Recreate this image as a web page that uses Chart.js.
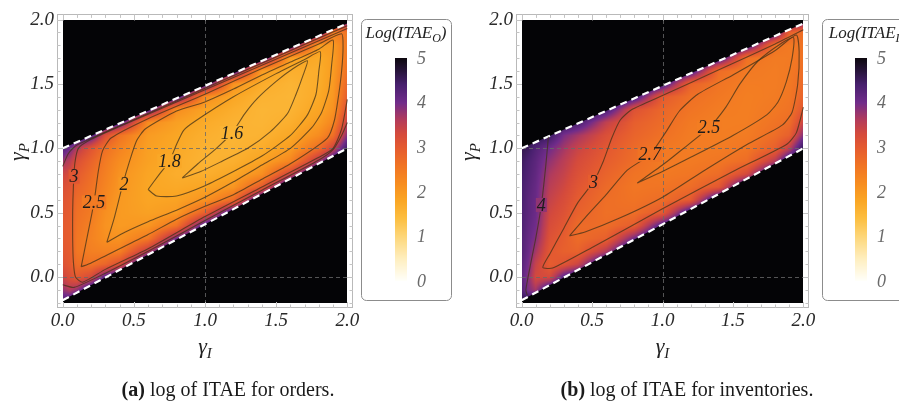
<!DOCTYPE html>
<html>
<head>
<meta charset="utf-8">
<script src="https://cdn.jsdelivr.net/npm/chart.js@4.4.0/dist/chart.umd.min.js"></script>
<style>
  html, body { margin: 0; padding: 0; background: #fff; }
  #wrap { position: relative; width: 899px; height: 405px; overflow: hidden; }
  canvas { position: absolute; top: 0; }
</style>
</head>
<body>
<div id="wrap">
  <canvas id="orders" width="455" height="405" style="left:0"></canvas>
  <canvas id="inventories" width="449" height="405" style="left:450px"></canvas>
</div>
<script>
// grid nodes (gamma_I across, gamma_P up)
const gammaI = [0, 0.05, 0.1, 0.2, 0.3, 0.4, 0.6, 0.8, 1.0, 1.2, 1.4, 1.6, 1.8, 1.9, 2.0];
const gammaP = [-0.2, -0.1, 0.0, 0.1, 0.2, 0.3, 0.4, 0.5, 0.6, 0.7, 0.8, 0.9, 1.0, 1.1, 1.2, 1.3, 1.4, 1.5, 1.6, 1.7, 1.8, 1.9, 2.0];
const axisTicks = [0, 0.5, 1, 1.5, 2];
const colorbarTicks = [0, 1, 2, 3, 4, 5];
const refLinesX = [1.0];
const refLinesY = [0.0, 1.0];

// stability region edges
const stableUpper = [{ x: 0, y: 1.0 }, { x: 2, y: 1.97 }];
const stableLower = [{ x: 0, y: -0.18 }, { x: 2, y: 1.0 }];

// log(ITAE) for orders, one column per gammaI node
const logItaeOrders = [
  [4.4,3.8,3.4,3.15,3.05,3.0,3.0,3.05,3.1,3.2,3.4,3.75,4.3,5,5,5,5,5,5,5,5,5,5],
  [4.5,3.6,3.2,3.02,2.98,2.95,2.95,2.98,3.02,3.1,3.25,3.55,4.0,4.8,5,5,5,5,5,5,5,5,5],
  [5,3.8,3.0,2.7,2.55,2.55,2.6,2.65,2.72,2.85,3.0,3.2,3.6,4.6,5,5,5,5,5,5,5,5,5],
  [5,4.6,3.3,2.6,2.4,2.35,2.4,2.48,2.55,2.62,2.7,2.85,3.1,4.3,5,5,5,5,5,5,5,5,5],
  [5,5,4.2,2.8,2.35,2.15,2.1,2.15,2.25,2.33,2.4,2.48,2.65,3.2,4.6,5,5,5,5,5,5,5,5],
  [5,5,4.6,3.2,2.4,2.1,1.98,1.98,2.0,2.05,2.1,2.2,2.35,2.6,4.3,5,5,5,5,5,5,5,5],
  [5,5,5,4.8,3.6,2.5,2.05,1.88,1.82,1.8,1.82,1.88,1.9,1.97,2.2,4.3,5,5,5,5,5,5,5],
  [5,5,5,5,4.9,4.0,2.6,2.0,1.85,1.75,1.68,1.72,1.76,1.8,1.9,2.2,4.4,5,5,5,5,5,5],
  [5,5,5,5,5,5,4.3,2.9,2.1,1.82,1.66,1.58,1.6,1.65,1.72,1.85,2.2,4.4,5,5,5,5,5],
  [5,5,5,5,5,5,5,4.5,2.7,2.05,1.8,1.65,1.58,1.56,1.6,1.68,1.8,2.1,4.4,5,5,5,5],
  [5,5,5,5,5,5,5,5,4.6,3.0,2.15,1.85,1.7,1.6,1.56,1.55,1.6,1.7,1.95,4.4,5,5,5],
  [5,5,5,5,5,5,5,5,5,4.7,3.4,2.3,1.95,1.78,1.66,1.58,1.55,1.57,1.66,1.9,4.4,5,5],
  [5,5,5,5,5,5,5,5,5,5,4.8,3.7,2.7,2.2,1.95,1.82,1.74,1.7,1.68,1.72,1.95,4.4,5],
  [5,5,5,5,5,5,5,5,5,5,5,4.5,3.4,2.65,2.3,2.1,2.02,1.98,1.95,1.93,1.97,2.5,4.8],
  [5,5,5,5,5,5,5,5,5,5,5,5,4.5,3.9,3.5,3.2,2.95,2.8,2.65,2.55,2.5,2.55,4.4]
];

// log(ITAE) for inventories
const logItaeInventories = [
  [4.7,4.3,4.2,4.25,4.3,4.3,4.35,4.35,4.4,4.4,4.45,4.5,4.6,5,5,5,5,5,5,5,5,5,5],
  [4.8,3.9,3.85,3.95,4.05,4.1,4.15,4.2,4.2,4.25,4.3,4.35,4.5,4.8,5,5,5,5,5,5,5,5,5],
  [5,3.7,3.3,3.45,3.7,3.9,4.0,4.05,4.08,4.1,4.15,4.2,4.3,4.7,5,5,5,5,5,5,5,5,5],
  [5,4.6,3.3,2.95,3.05,3.15,3.25,3.35,3.45,3.55,3.65,3.8,4.0,4.5,5,5,5,5,5,5,5,5,5],
  [5,5,4.2,3.1,2.9,2.95,3.05,3.15,3.25,3.35,3.45,3.55,3.7,3.95,4.6,5,5,5,5,5,5,5,5],
  [5,5,4.6,3.4,2.85,2.72,2.74,2.88,2.98,3.08,3.18,3.28,3.42,3.7,4.4,5,5,5,5,5,5,5,5],
  [5,5,5,4.8,3.6,2.9,2.7,2.65,2.68,2.75,2.85,2.95,3.05,3.2,3.5,4.4,5,5,5,5,5,5,5],
  [5,5,5,5,4.9,4.0,2.95,2.68,2.6,2.55,2.6,2.7,2.74,2.84,2.93,3.15,4.4,5,5,5,5,5,5],
  [5,5,5,5,5,5,4.3,3.0,2.7,2.58,2.5,2.48,2.52,2.64,2.72,2.8,3.0,4.4,5,5,5,5,5],
  [5,5,5,5,5,5,5,4.5,3.0,2.7,2.56,2.48,2.45,2.46,2.5,2.58,2.65,2.85,4.4,5,5,5,5],
  [5,5,5,5,5,5,5,5,4.7,3.05,2.7,2.55,2.47,2.43,2.42,2.46,2.52,2.58,2.7,4.4,5,5,5],
  [5,5,5,5,5,5,5,5,5,4.7,3.3,2.7,2.55,2.47,2.43,2.42,2.42,2.45,2.5,2.62,4.4,5,5],
  [5,5,5,5,5,5,5,5,5,5,4.8,3.6,2.9,2.7,2.6,2.52,2.47,2.45,2.45,2.47,2.6,4.4,5],
  [5,5,5,5,5,5,5,5,5,5,5,4.6,3.5,2.9,2.7,2.6,2.55,2.52,2.5,2.48,2.5,2.9,4.8],
  [5,5,5,5,5,5,5,5,5,5,5,5,4.6,3.9,3.4,3.05,2.85,2.75,2.68,2.62,2.6,2.65,4.4]
];

// contour lines, [gammaI, gammaP] points
const ordersContourLevels = [1.6, 1.8, 2, 2.5, 3, 3.5, 3.5];
const ordersContourPaths = [
  [[0.84,0.77],[0.95,0.88],[1.08,1.0],[1.19,1.12],[1.28,1.27],[1.37,1.39],[1.5,1.52],[1.62,1.62],[1.72,1.68],[1.69,1.57],[1.64,1.42],[1.58,1.27],[1.46,1.13],[1.3,1.0],[1.12,0.9],[0.97,0.82],[0.84,0.77]],
  [[0.6,0.68],[0.68,0.8],[0.75,0.9],[0.8,1.03],[0.85,1.14],[0.93,1.21],[1.2,1.4],[1.5,1.58],[1.7,1.69],[1.81,1.75],[1.8,1.6],[1.78,1.42],[1.72,1.26],[1.6,1.1],[1.4,0.94],[1.2,0.82],[1.0,0.71],[0.8,0.63],[0.66,0.63],[0.6,0.68]],
  [[0.31,0.27],[0.36,0.45],[0.42,0.71],[0.47,0.9],[0.52,1.06],[0.58,1.15],[0.8,1.29],[1.0,1.36],[1.2,1.46],[1.4,1.57],[1.6,1.67],[1.8,1.77],[1.9,1.84],[1.89,1.65],[1.87,1.45],[1.82,1.28],[1.75,1.16],[1.6,1.0],[1.4,0.87],[1.2,0.74],[1.0,0.62],[0.8,0.52],[0.6,0.43],[0.44,0.35],[0.31,0.27]],
  [[0.13,0.08],[0.17,0.3],[0.22,0.58],[0.25,0.82],[0.28,0.98],[0.34,1.08],[0.6,1.23],[1.0,1.42],[1.4,1.62],[1.8,1.81],[1.96,1.89],[1.97,1.78],[1.96,1.6],[1.94,1.42],[1.91,1.22],[1.86,1.08],[1.6,0.88],[1.4,0.76],[1.2,0.64],[1.0,0.55],[0.8,0.45],[0.6,0.33],[0.4,0.22],[0.2,0.11],[0.13,0.08]],
  [[2.0,1.93],[1.6,1.74],[1.2,1.55],[0.8,1.36],[0.4,1.17],[0.2,1.07],[0.11,1.0],[0.085,0.88],[0.075,0.7],[0.07,0.5],[0.07,0.3],[0.075,0.12],[0.09,0.0],[0.14,-0.04],[0.3,0.06],[0.6,0.22],[1.0,0.47],[1.4,0.7],[1.8,0.93],[1.9,1.0],[1.96,1.15],[2.0,1.38]],
  [[0,0.86],[0.04,0.96],[0.1,1.025],[0.5,1.222],[1.0,1.466],[1.5,1.71],[2.0,1.952]],
  [[0,-0.06],[0.08,-0.08],[0.3,0.03],[0.6,0.2],[1.0,0.44],[1.4,0.675],[1.8,0.91],[1.9,0.99],[1.96,1.1],[2.0,1.2]]
];
const ordersLabelLevels = [3, 2.5, 2, 1.8, 1.6];
const ordersLabelSpots = [[0.08,0.78],[0.22,0.58],[0.43,0.72],[0.75,0.9],[1.19,1.12]];

const inventoriesContourLevels = [2.5, 2.7, 3, 4];
const inventoriesContourPaths = [
  [[0.82,0.73],[1.0,0.87],[1.15,1.0],[1.33,1.16],[1.45,1.32],[1.55,1.5],[1.68,1.68],[1.85,1.82],[1.93,1.86],[1.92,1.7],[1.88,1.52],[1.82,1.36],[1.74,1.26],[1.5,1.1],[1.2,0.93],[1.0,0.82],[0.82,0.73]],
  [[0.34,0.32],[0.45,0.46],[0.6,0.64],[0.75,0.83],[0.91,0.95],[1.02,1.12],[1.12,1.29],[1.25,1.42],[1.5,1.57],[1.8,1.76],[1.95,1.88],[1.97,1.75],[1.96,1.5],[1.92,1.28],[1.85,1.18],[1.6,1.03],[1.3,0.83],[1.0,0.62],[0.7,0.46],[0.45,0.35],[0.34,0.32]],
  [[2.0,1.32],[1.95,1.12],[1.88,1.03],[1.5,0.82],[1.0,0.53],[0.5,0.23],[0.22,0.07],[0.15,0.075],[0.2,0.18],[0.3,0.38],[0.4,0.58],[0.51,0.74],[0.58,0.9],[0.64,1.08],[0.7,1.22],[0.78,1.3],[1.0,1.41],[1.4,1.61],[1.8,1.81],[2.0,1.92]],
  [[0.19,1.09],[0.17,0.85],[0.14,0.56],[0.1,0.3],[0.06,0.08],[0.03,-0.1],[0.04,-0.14]]
];
const inventoriesLabelLevels = [4, 3, 2.7, 2.5];
const inventoriesLabelSpots = [[0.14,0.56],[0.51,0.74],[0.91,0.95],[1.33,1.16]];

// reversed sunset colour scale, 0 (white) .. 5 (black)
const sunsetStops = [
  [0.0, [255,255,250]], [0.5, [254,238,190]], [1.0, [253,214,120]], [1.4, [252,190,64]],
  [1.8, [250,166,36]], [2.2, [247,140,32]], [2.6, [240,115,36]], [3.0, [228,90,48]],
  [3.3, [212,74,60]], [3.6, [180,60,90]], [4.0, [112,44,138]], [4.4, [72,32,110]],
  [4.7, [40,20,60]], [5.0, [12,8,14]]
];

const serif = '"Liberation Serif", "Times New Roman", serif';

function sunset(v) {
  if (v <= sunsetStops[0][0]) return sunsetStops[0][1];
  for (let k = 1; k < sunsetStops.length; k++) {
    const [v1, c1] = sunsetStops[k];
    if (v <= v1) {
      const [v0, c0] = sunsetStops[k - 1];
      const t = (v - v0) / (v1 - v0);
      return [0, 1, 2].map(i => c0[i] + (c1[i] - c0[i]) * t);
    }
  }
  return sunsetStops[sunsetStops.length - 1][1];
}

function bracket(nodes, v) {
  let i = 0;
  while (i < nodes.length - 2 && v > nodes[i + 1]) i++;
  const t = Math.min(1, Math.max(0, (v - nodes[i]) / (nodes[i + 1] - nodes[i])));
  return [i, t];
}

function sampleGrid(grid, xv, yv) {
  const [i, tx] = bracket(gammaI, xv);
  const [j, ty] = bracket(gammaP, yv);
  const a = grid[i][j], b = grid[i + 1][j], c = grid[i][j + 1], d = grid[i + 1][j + 1];
  return (a * (1 - tx) + b * tx) * (1 - ty) + (c * (1 - tx) + d * tx) * ty;
}

function lineAt(edge, xv) {
  const [p, q] = edge;
  return p.y + (q.y - p.y) * (xv - p.x) / (q.x - p.x);
}

function rgb(c) { return `rgb(${c.map(Math.round).join(',')})`; }

function subText(ctx, x, y, main, sub, size, tail) {
  const mainFont = `italic ${size}px ${serif}`;
  const subFont = `italic ${Math.round(size * 0.68)}px ${serif}`;
  ctx.font = mainFont; const w1 = ctx.measureText(main).width;
  ctx.font = subFont; const w2 = ctx.measureText(sub).width;
  ctx.font = mainFont; const w3 = tail ? ctx.measureText(tail).width : 0;
  const start = x - (w1 + w2 + w3) / 2;
  ctx.textAlign = 'left'; ctx.textBaseline = 'alphabetic';
  ctx.font = mainFont; ctx.fillText(main, start, y);
  ctx.font = subFont; ctx.fillText(sub, start + w1, y + size * 0.22);
  if (tail) { ctx.font = mainFont; ctx.fillText(tail, start + w1 + w2, y); }
}

function roundBox(ctx, x, y, w, h, r) {
  ctx.beginPath();
  ctx.moveTo(x + r, y);
  ctx.arcTo(x + w, y, x + w, y + h, r);
  ctx.arcTo(x + w, y + h, x, y + h, r);
  ctx.arcTo(x, y + h, x, y, r);
  ctx.arcTo(x, y, x + w, y, r);
  ctx.closePath();
}

function itaeMapPlugin(grid, labelLevels, labelSpots, look) {
  return {
    id: 'itaeMap',
    beforeDatasetsDraw(chart) {
      const { ctx, scales: { x, y } } = chart;
      const left = Math.round(x.getPixelForValue(0)), right = Math.round(x.getPixelForValue(2));
      const top = Math.round(y.getPixelForValue(2)), bottom = Math.round(y.getPixelForValue(-0.2));
      const w = right - left, h = bottom - top;
      const pxPerY = Math.abs(y.getPixelForValue(0) - y.getPixelForValue(1));
      const off = document.createElement('canvas');
      off.width = w; off.height = h;
      const octx = off.getContext('2d');
      const img = octx.createImageData(w, h);
      const black = [4, 4, 6];
      for (let j = 0; j < h; j++) {
        const yv = y.getValueForPixel(top + j + 0.5);
        for (let i = 0; i < w; i++) {
          const xv = x.getValueForPixel(left + i + 0.5);
          const up = lineAt(stableUpper, xv), lo = lineAt(stableLower, xv);
          const out = Math.max((yv - up) * pxPerY, (lo - yv) * pxPerY);
          const a = Math.min(1, Math.max(0, 0.5 - out));
          let c = black;
          if (a > 0) {
            const col = sunset(sampleGrid(grid, xv, yv));
            c = [0, 1, 2].map(k => black[k] + (col[k] - black[k]) * a);
          }
          const p = (j * w + i) * 4;
          img.data[p] = c[0]; img.data[p + 1] = c[1]; img.data[p + 2] = c[2]; img.data[p + 3] = 255;
        }
      }
      octx.putImageData(img, 0, 0);
      ctx.drawImage(off, left, top);

      // dashed reference lines
      ctx.save();
      ctx.setLineDash([4, 3]);
      ctx.strokeStyle = 'rgba(105,105,105,0.8)';
      ctx.lineWidth = 1;
      refLinesX.forEach(v => {
        const px = Math.round(x.getPixelForValue(v)) + 0.5;
        ctx.beginPath(); ctx.moveTo(px, top); ctx.lineTo(px, bottom); ctx.stroke();
      });
      refLinesY.forEach(v => {
        const py = Math.round(y.getPixelForValue(v)) + 0.5;
        ctx.beginPath(); ctx.moveTo(left, py); ctx.lineTo(right, py); ctx.stroke();
      });
      ctx.restore();
    },
    afterDatasetsDraw(chart) {
      const { ctx, scales: { x, y } } = chart;
      ctx.save();
      ctx.font = `italic 18px ${serif}`;
      ctx.textAlign = 'center';
      ctx.textBaseline = 'middle';
      labelLevels.forEach((level, k) => {
        const [lx, ly] = labelSpots[k];
        const px = x.getPixelForValue(lx), py = y.getPixelForValue(ly);
        const text = String(level);
        const tw = ctx.measureText(text).width;
        ctx.fillStyle = rgb(sunset(sampleGrid(grid, lx, ly)));
        ctx.fillRect(px - tw / 2 - 1, py - 7, tw + 2, 14);
        ctx.fillStyle = '#1c1c1c';
        ctx.fillText(text, px, py + 1);
      });
      ctx.restore();
    },
    afterDraw(chart) {
      const { ctx, chartArea: ca, scales: { x, y } } = chart;
      ctx.save();
      // frame with inward ticks
      ctx.strokeStyle = '#b9b9b9';
      ctx.lineWidth = 1;
      ctx.strokeRect(Math.round(ca.left) + 0.5, Math.round(ca.top) + 0.5, Math.round(ca.width) - 1, Math.round(ca.height) - 1);
      ctx.strokeStyle = '#c4c4c4';
      for (let k = 0; k <= 20; k++) {
        const v = k / 10, len = k % 5 === 0 ? 6 : 3.5;
        const px = Math.round(x.getPixelForValue(v)) + 0.5;
        ctx.beginPath();
        ctx.moveTo(px, ca.bottom); ctx.lineTo(px, ca.bottom - len);
        ctx.moveTo(px, ca.top); ctx.lineTo(px, ca.top + len);
        ctx.stroke();
      }
      for (let k = -2; k <= 20; k++) {
        const v = k / 10, len = k % 5 === 0 ? 6 : 3.5;
        const py = Math.round(y.getPixelForValue(v)) + 0.5;
        ctx.beginPath();
        ctx.moveTo(ca.left, py); ctx.lineTo(ca.left + len, py);
        ctx.moveTo(ca.right, py); ctx.lineTo(ca.right - len, py);
        ctx.stroke();
      }

      // axis titles
      ctx.fillStyle = '#222';
      subText(ctx, x.getPixelForValue(1), 353, '\u03b3', 'I', 22);
      ctx.save();
      ctx.translate(look.yTitleX, 152);
      ctx.rotate(-Math.PI / 2);
      subText(ctx, 0, 6, '\u03b3', 'P', 22);
      ctx.restore();

      // caption
      ctx.fillStyle = '#1a1a1a';
      ctx.textBaseline = 'alphabetic';
      ctx.textAlign = 'left';
      ctx.font = `bold 20px ${serif}`;
      const wTag = ctx.measureText(look.captionTag).width;
      ctx.font = `20px ${serif}`;
      const wText = ctx.measureText(look.captionText).width;
      const cx0 = look.captionX - (wTag + wText) / 2;
      ctx.font = `bold 20px ${serif}`;
      ctx.fillText(look.captionTag, cx0, 396);
      ctx.font = `20px ${serif}`;
      ctx.fillText(look.captionText, cx0 + wTag, 396);

      // colour bar legend
      const [bx, by, bw, bh] = look.box;
      roundBox(ctx, bx + 0.5, by + 0.5, bw, bh, 5);
      ctx.strokeStyle = '#8c8c8c';
      ctx.stroke();
      ctx.fillStyle = '#222';
      subText(ctx, bx + bw / 2, by + 19, 'Log(ITAE', look.titleSub, 17, ')');
      const [cx, cy, cw, ch] = look.bar;
      for (let p = 0; p < ch; p++) {
        const v = 5 * (ch - p - 0.5) / ch;
        ctx.fillStyle = rgb(sunset(v));
        ctx.fillRect(cx, cy + p, cw, 1);
      }
      ctx.fillStyle = '#6a6a6a';
      ctx.font = `italic 18px ${serif}`;
      ctx.textAlign = 'left';
      ctx.textBaseline = 'middle';
      colorbarTicks.forEach(v => {
        ctx.fillText(String(v), cx + cw + 10, cy + ch - v / 5 * ch + 1);
      });
      ctx.restore();
    }
  };
}

function buildPanel(canvasId, grid, levels, paths, labelLevels, labelSpots, look) {
  const datasets = paths.map((path, k) => ({
    label: 'log ITAE = ' + levels[k],
    data: path.map(([x, y]) => ({ x, y })),
    showLine: true,
    pointRadius: 0,
    borderColor: 'rgba(66,50,24,0.75)',
    borderWidth: 1.1,
    tension: 0.2
  }));
  [stableUpper, stableLower].forEach(edge => datasets.push({
    label: 'stability edge',
    data: edge,
    showLine: true,
    pointRadius: 0,
    borderColor: '#ffffff',
    borderWidth: 2.2,
    borderDash: [7, 5]
  }));
  const tickFont = { family: serif, size: 19, style: 'italic' };
  return new Chart(document.getElementById(canvasId), {
    type: 'scatter',
    data: { datasets },
    options: {
      responsive: false,
      animation: false,
      devicePixelRatio: 1,
      layout: { padding: { left: 0, right: look.padRight, top: 13, bottom: 0 } },
      plugins: { legend: { display: false }, tooltip: { enabled: false } },
      scales: {
        x: {
          type: 'linear', min: -0.04, max: 2.04,
          grid: { display: false, drawTicks: false }, border: { display: false },
          afterBuildTicks: s => { s.ticks = axisTicks.map(v => ({ value: v })); },
          afterFit: s => { s.height = 97; },
          ticks: { callback: v => Number(v).toFixed(1), font: tickFont, color: '#2a2a2a', padding: 2, maxRotation: 0, autoSkip: false }
        },
        y: {
          type: 'linear', min: -0.24, max: 2.04,
          grid: { display: false, drawTicks: false }, border: { display: false },
          afterBuildTicks: s => { s.ticks = axisTicks.map(v => ({ value: v })); },
          afterFit: s => { s.width = look.axisWidth; },
          ticks: { callback: v => Number(v).toFixed(1), font: tickFont, color: '#2a2a2a', padding: 3, autoSkip: false }
        }
      }
    },
    plugins: [itaeMapPlugin(grid, labelLevels, labelSpots, look)]
  });
}

buildPanel('orders', logItaeOrders, ordersContourLevels, ordersContourPaths, ordersLabelLevels, ordersLabelSpots, {
  axisWidth: 57, padRight: 102, yTitleX: 18,
  captionTag: '(a)', captionText: ' log of ITAE for orders.', captionX: 228,
  box: [361, 19, 90, 281], bar: [395, 58, 12, 223], titleSub: 'O'
});

buildPanel('inventories', logItaeInventories, inventoriesContourLevels, inventoriesContourPaths, inventoriesLabelLevels, inventoriesLabelSpots, {
  axisWidth: 66, padRight: 90, yTitleX: 19,
  captionTag: '(b)', captionText: ' log of ITAE for inventories.', captionX: 237,
  box: [372, 19, 90, 281], bar: [405, 58, 12, 223], titleSub: 'I'
});
</script>
</body>
</html>
